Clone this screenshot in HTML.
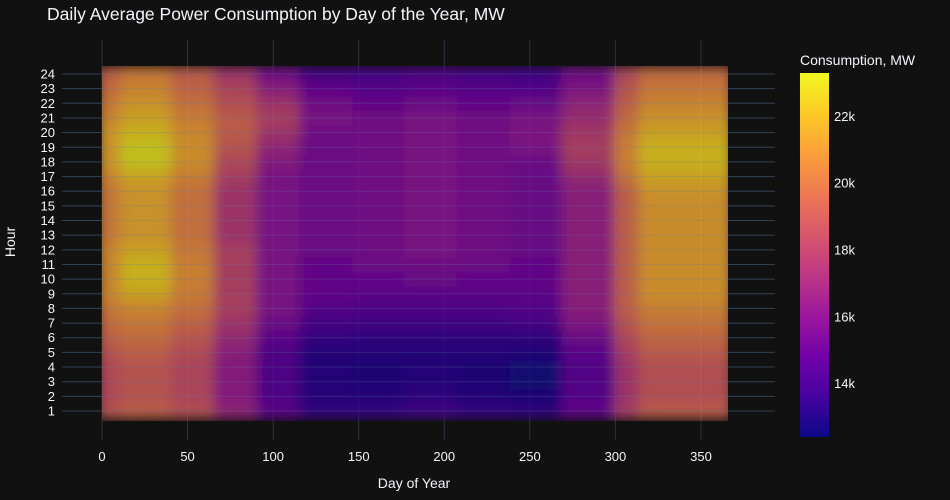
<!DOCTYPE html>
<html><head><meta charset="utf-8"><style>
body{margin:0;background:#111111;}
svg{display:block;font-family:"Liberation Sans",sans-serif;}
text{fill:#f2f5fa;}
</style></head><body>
<svg id="chart" width="950" height="500" viewBox="0 0 950 500">
<defs>
<filter id="blur" x="-5%" y="-5%" width="110%" height="110%"><feGaussianBlur stdDeviation="6"/></filter>
<linearGradient id="cbgrad" x1="0" y1="1" x2="0" y2="0">
<stop offset="0" stop-color="#0d0887"/><stop offset="0.111" stop-color="#46039f"/><stop offset="0.222" stop-color="#7201a8"/><stop offset="0.333" stop-color="#9c179e"/><stop offset="0.444" stop-color="#bd3786"/><stop offset="0.556" stop-color="#d8576b"/><stop offset="0.667" stop-color="#ed7953"/><stop offset="0.778" stop-color="#fb9f3a"/><stop offset="0.889" stop-color="#fdca26"/><stop offset="1" stop-color="#f0f921"/>
</linearGradient>
<clipPath id="clip"><rect x="102" y="66" width="626" height="355"/></clipPath>
</defs>
<text x="47" y="20" font-size="17.5">Daily Average Power Consumption by Day of the Year, MW</text>
<g id="grid"></g>
<g id="cells" clip-path="url(#clip)"><g id="cellsInner" filter="url(#blur)" opacity="0.78"></g></g>
<g id="gridTop" opacity="0.25"></g>
<g id="xticks"></g>
<g id="yticks"></g>
<text x="414" y="488" font-size="14" text-anchor="middle">Day of Year</text>
<text x="0" y="0" font-size="14" text-anchor="middle" transform="translate(15,242) rotate(-90)">Hour</text>
<text x="800" y="65" font-size="14">Consumption, MW</text>
<rect x="800" y="73" width="29" height="364" fill="url(#cbgrad)"/>
<g id="cbticks"></g>
</svg>
<script>
const monthStarts=[0,15,45,70,95,120,151,181,212,243,273,304,318,366];
const hours=[1,2,3,4,5,6,7,8,9,10,11,12,13,14,15,16,17,18,19,20,21,22,23,24];
const xTicks=[0,50,100,150,200,250,300,350];
const cbTicks=[14,16,18,20,22];
const b1Vals=[19,18.5,18.5,18.5,19,19.5,20,20.5,21,21,21,21,20.5,20.5,20.5,20.5,21,21.5,21.5,21.5,21,20.5,20,19.5];
const b2Vals=[19.5,19,19,19,19.5,20,20.5,21,22,22.5,22.5,22,21.5,21.5,21.5,21.5,22,23,23,22.5,22,21.5,21,20.5];
const b3Vals=[18.8,18.3,18.3,18.3,18.6,19.1,19.6,20.2,20.6,20.8,20.8,20.5,20.2,20.2,20.2,20.2,20.7,21.3,21.3,21.1,20.7,20.2,19.7,19.3];
const b4Vals=[16.8,16.3,16.3,16.3,16.5,17,17.5,18,18,18,18,18,17.5,17.5,17.5,17.5,18,18.5,19,19.3,19.3,18.8,18.3,17.5];
const aprVals=[14.8,14.3,14.3,14.3,14.3,14.8,15.3,15.8,15.8,15.8,15.8,15.8,15.8,15.8,15.8,15.8,15.8,16.3,16.8,17.5,18,17.5,16.5,15.5];
const mayVals=[13.5,13,13,13,13,13.5,14,14.5,15,15,15,15.3,15.3,15.3,15.3,15.3,15.3,15.3,15.3,15.5,15.8,15.5,15,14];
const junVals=[13.5,13,12.8,12.8,13,13.3,13.8,14.3,14.8,15,15.3,15.5,15.5,15.5,15.5,15.5,15.5,15.5,15.5,15.5,15.5,15,14.5,14];
const julVals=[13.8,13.3,13,13,13,13.3,13.8,14.3,14.8,15.2,15.5,15.8,15.8,15.8,15.8,15.8,15.8,15.8,15.8,15.8,15.8,15.3,14.8,14.3];
const augVals=[13.5,13,12.8,12.8,13,13.3,13.8,14.3,14.8,15,15.3,15.5,15.5,15.5,15.5,15.5,15.5,15.5,15.5,15.5,15.5,15,14.5,14];
const sepVals=[13.3,12.8,12.6,12.6,12.8,13.3,14,14.5,14.8,15,15,15.2,15.2,15.2,15.2,15.2,15.2,15.3,15.8,16,15.8,15.2,14.5,13.8];
const octVals=[15,14.5,14.5,14.5,14.7,15.3,16,16.5,16.5,16.5,16.5,16.5,16.5,16.5,16.5,16.5,17,17.7,18,17.7,17.2,16.7,16,15.5];
const novVals=[18,17.5,17.5,17.5,18,18.5,19,19.5,19.5,19.5,19.5,19.5,19.5,19.5,19.5,19.5,20.3,20.8,20.8,20.5,20,19.5,19,18.5];
const decVals=[19.3,18.8,18.8,18.8,19.3,19.8,20.3,20.8,21.3,21.3,21.3,21.3,21.3,21.3,21.3,21.5,22,22.5,22.5,22,21.5,21,20.5,20];
const monthVals=[b1Vals,b2Vals,b3Vals,b4Vals,aprVals,mayVals,junVals,julVals,augVals,sepVals,octVals,novVals,decVals];

const NS="http://www.w3.org/2000/svg";
const xs=d=>102+d*(599/350);
const ys=h=>411-(h-1)*(337/23);
const cbY=v=>437-(v-12.4)*(364/10.9);
const stops=[[13,8,135],[70,3,159],[114,1,168],[156,23,158],[189,55,134],[216,87,107],[237,121,83],[251,159,58],[253,202,38],[240,249,33]];
function color(v){let t=(v-12.4)/10.9;t=Math.max(0,Math.min(1,t))*9;const i=Math.min(8,Math.floor(t)),f=t-i;
const a=stops[i],b=stops[i+1];return `rgb(${a.map((c,k)=>Math.round(c+(b[k]-c)*f)).join(',')})`;}
function mk(tag,attrs,parent){const e=document.createElementNS(NS,tag);for(const k in attrs)e.setAttribute(k,attrs[k]);parent.appendChild(e);return e;}

const grid=document.getElementById('grid'),gridTop=document.getElementById('gridTop');
xTicks.forEach(t=>{const l=mk('line',{x1:xs(t),x2:xs(t),y1:40,y2:440,stroke:'#283442','stroke-width':1},grid);

});
hours.forEach(h=>{[grid,gridTop].forEach(g=>{const l=mk('line',{x1:62,x2:775,y1:ys(h),y2:ys(h),stroke:g===grid?'#283442':'#506784','stroke-width':1},g);

});});

const inner=document.getElementById('cellsInner');
const last=monthVals.length-1;
monthVals.forEach((vals,m)=>{vals.forEach((v,i)=>{const h=hours[i];
const x0=xs(monthStarts[m])-(m===0?4:8),x1=xs(monthStarts[m+1])+(m===last?4:8);
const r=mk('rect',{x:x0,y:ys(h+0.5),width:x1-x0,height:ys(h-0.5)-ys(h+0.5)+0.5,fill:color(v)},inner);

});});

const xg=document.getElementById('xticks');
xTicks.forEach(t=>{const e=mk('text',{x:xs(t),y:461,'font-size':13,'text-anchor':'middle'},xg);e.textContent=t;

});
const yg=document.getElementById('yticks');
hours.forEach(h=>{const e=mk('text',{x:55,y:ys(h)+4.5,'font-size':13,'text-anchor':'end'},yg);e.textContent=h;

});
const cg=document.getElementById('cbticks');
cbTicks.forEach(t=>{const e=mk('text',{x:834,y:cbY(t)+4.5,'font-size':13},cg);e.textContent=t+'k';

});
</script>
</body></html>
